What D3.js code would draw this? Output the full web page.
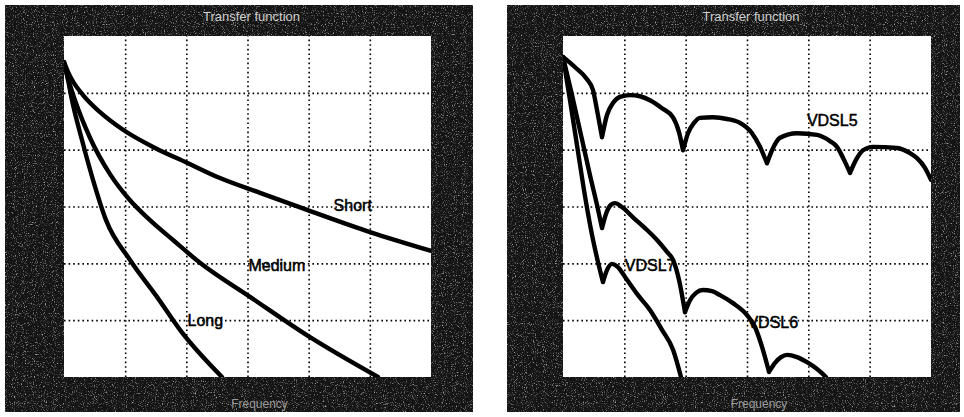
<!DOCTYPE html>
<html>
<head>
<meta charset="utf-8">
<script src="https://cdn.jsdelivr.net/npm/d3@7"></script>
<style>
  body { margin: 0; background: #fff; }
  svg { display: block; font-family: "Liberation Sans", Arial, sans-serif; }
</style>
</head>
<body>
<script>
// values: x in grid divisions, y in dB (10 dB / division)
const xTicks = [0, 1, 2, 3, 4, 5, 6]
const yTicks = [-60, -50, -40, -30, -20, -10, 0]

const shortX = [0, 0.065, 0.131, 0.311, 0.589, 0.965, 1.488, 2.011, 2.55, 3.204, 3.973, 5.003, 6.0]
const shortY = [-4.6, -6.3, -7.7, -10.4, -13.4, -16.5, -19.7, -22.3, -25.0, -27.6, -30.6, -34.5, -37.8]

const mediumX = [0, 0.065, 0.18, 0.425, 0.752, 1.079, 1.406, 1.782, 2.223, 3.041, 4.022, 5.133]
const mediumY = [-4.6, -7.4, -11.3, -17.9, -24.3, -28.9, -32.4, -35.9, -39.9, -45.9, -53.0, -60]

const longX = [0, 0.065, 0.131, 0.294, 0.474, 0.687, 1.079, 1.52, 1.896, 2.583]
const longY = [-4.6, -7.7, -11.3, -18.3, -25.3, -32.4, -39.4, -45.9, -51.7, -60]

const vdsl5X = [0, 0.196, 0.391, 0.489, 0.554, 0.636, 0.717, 0.815, 0.929, 1.092, 1.255, 1.418, 1.614, 1.794, 1.891, 1.957,
  2.038, 2.136, 2.233, 2.446, 2.674, 2.886, 3.082, 3.212, 3.326, 3.408, 3.538, 3.815, 4.142, 4.353, 4.467, 4.582, 4.68,
  4.777, 4.891, 5.055, 5.446, 5.658, 5.772, 5.902, 6.0]
const vdsl5Y = [-3.7, -5.5, -7.6, -9.5, -13.0, -17.8, -13.9, -11.8, -10.7, -10.4, -10.6, -11.3, -12.7, -14.3, -16.9, -20.1,
  -17.1, -15.3, -14.4, -14.3, -14.6, -15.3, -17.1, -19.5, -22.4, -20.1, -17.9, -17.1, -17.4, -18.5, -19.5, -21.8, -24.1,
  -21.8, -20.1, -19.5, -19.7, -20.6, -21.5, -23.2, -25.3]

const vdsl6X = [0, 0.147, 0.293, 0.44, 0.554, 0.636, 0.701, 0.783, 0.848, 0.962, 1.141, 1.337, 1.533, 1.696, 1.794, 1.891,
  1.989, 2.071, 2.169, 2.283, 2.429, 2.56, 2.772, 3.0, 3.131, 3.245, 3.359, 3.457, 3.555, 3.652, 3.815, 3.978, 4.142, 4.288]
const vdsl6Y = [-3.7, -10.4, -17.4, -24.5, -29.7, -33.8, -31.3, -29.7, -29.4, -30.1, -31.9, -33.8, -35.9, -38.0, -39.4, -42.9,
  -48.6, -46.5, -45.2, -44.7, -44.9, -45.6, -47.0, -49.1, -51.2, -54.7, -59.1, -57.5, -56.5, -56.1, -56.5, -57.4, -58.6, -60]

const vdsl7X = [0, 0.114, 0.228, 0.342, 0.473, 0.571, 0.652, 0.717, 0.799, 0.88, 1.043, 1.223, 1.418, 1.614, 1.794, 1.924]
const vdsl7Y = [-3.7, -11.3, -19.2, -27.1, -35.0, -39.8, -43.3, -41.2, -40.1, -40.5, -42.9, -45.6, -48.2, -51.7, -55.2, -60]

const leftNames = ['Short', 'Medium', 'Long']
const rightNames = ['VDSL5', 'VDSL7', 'VDSL6']
const panelTitle = 'Transfer function'
const panelXLabel = 'Frequency'

const m = {
    width: 964,
    height: 417
}

const svg = d3.select('body').append('svg')
    .attr('width', m.width)
    .attr('height', m.height)

// grainy scan look for the dark frames
const defs = svg.append('defs')
const grain = defs.append('filter').attr('id', 'grain')
    .attr('x', 0).attr('y', 0).attr('width', 1).attr('height', 1)
grain.append('feTurbulence')
    .attr('type', 'fractalNoise')
    .attr('baseFrequency', 0.9)
    .attr('numOctaves', 2)
    .attr('seed', 4)
grain.append('feColorMatrix')
    .attr('type', 'matrix')
    .attr('values', '0 0 0 0 0.8  0 0 0 0 0.8  0 0 0 0 0.8  3.2 0 0 0 -1.75')

function zip(xs, ys) {
    return xs.map((x, i) => ({ x: x, y: ys[i] }))
}

// split a series at its notches so each dip is a sharp cusp
function lobes(pts) {
    const out = []
    let cur = [pts[0]]
    for (let i = 1; i < pts.length; i++) {
        cur.push(pts[i])
        if (i < pts.length - 1 && pts[i].y < pts[i - 1].y && pts[i].y < pts[i + 1].y) {
            out.push(cur)
            cur = [pts[i]]
        }
    }
    out.push(cur)
    return out
}

function drawPanel(p) {
    const g = svg.append('g')

    g.append('rect')
        .attr('x', p.frame[0]).attr('y', p.frame[1])
        .attr('width', p.frame[2]).attr('height', p.frame[3])
        .attr('fill', '#141414')
    g.append('rect')
        .attr('x', p.frame[0]).attr('y', p.frame[1])
        .attr('width', p.frame[2]).attr('height', p.frame[3])
        .attr('filter', 'url(#grain)')
        .attr('opacity', 0.7)

    const x = d3.scaleLinear().domain([0, 6]).range([p.left, p.right])
    const y = d3.scaleLinear().domain([-60, 0]).range([377, 36])

    g.append('rect')
        .attr('x', x(0)).attr('y', y(0))
        .attr('width', x(6) - x(0)).attr('height', y(-60) - y(0))
        .attr('fill', '#fff')

    const clipId = 'clip' + p.left
    defs.append('clipPath').attr('id', clipId)
        .append('rect')
        .attr('x', x(0)).attr('y', y(0))
        .attr('width', x(6) - x(0)).attr('height', y(-60) - y(0))

    // dotted grid from the axes
    const gx = g.append('g')
        .attr('transform', `translate(0,${y(-60)})`)
        .call(d3.axisBottom(x).tickValues(xTicks.slice(1, -1)).tickSize(-(y(-60) - y(0))).tickFormat(''))
    const gy = g.append('g')
        .attr('transform', `translate(${x(0)},0)`)
        .call(d3.axisLeft(y).tickValues(yTicks.slice(1, -1)).tickSize(-(x(6) - x(0))).tickFormat(''))
    for (const a of [gx, gy]) {
        a.select('.domain').remove()
        a.selectAll('line')
            .attr('stroke', '#000')
            .attr('stroke-width', 1.6)
            .attr('stroke-dasharray', '1.6,3')
    }

    const line = d3.line()
        .x(d => x(d.x))
        .y(d => y(d.y))
        .curve(d3.curveMonotoneX)

    const curves = g.append('g').attr('clip-path', `url(#${clipId})`)
    p.series.forEach(function(s) {
        curves.append('path')
            .attr('d', lobes(s).map(l => line(l)).join(''))
            .attr('fill', 'none')
            .attr('stroke', '#000')
            .attr('stroke-width', 4.4)
            .attr('stroke-linejoin', 'round')
            .attr('stroke-linecap', 'round')
    })

    g.selectAll('.lbl')
        .data(p.names)
        .enter()
        .append('text')
            .attr('class', 'lbl')
            .attr('x', (d, i) => x(p.spots[i][0]))
            .attr('y', (d, i) => y(p.spots[i][1]))
            .attr('dy', '0.36em')
            .attr('text-anchor', 'middle')
            .attr('font-size', 16)
            .attr('fill', '#000')
            .attr('stroke', '#000')
            .attr('stroke-width', 0.5)
            .text(d => d)

    g.append('text')
        .attr('x', (x(0) + x(6)) / 2 + 4)
        .attr('y', 21)
        .attr('text-anchor', 'middle')
        .attr('font-size', 13)
        .attr('fill', '#cfcfcf')
        .text(panelTitle)

    g.append('text')
        .attr('x', (x(0) + x(6)) / 2 + 12)
        .attr('y', 408)
        .attr('text-anchor', 'middle')
        .attr('font-size', 12)
        .attr('fill', '#9a9a9a')
        .text(panelXLabel)
}

drawPanel({
    frame: [5, 5, 468, 407],
    left: 64,
    right: 431,
    series: [zip(shortX, shortY), zip(mediumX, mediumY), zip(longX, longY)],
    names: leftNames,
    spots: [[4.72, -29.7], [3.48, -40.3], [2.31, -50.1]]
})

drawPanel({
    frame: [507, 5, 453, 407],
    left: 563,
    right: 931,
    series: [zip(vdsl5X, vdsl5Y), zip(vdsl6X, vdsl6Y), zip(vdsl7X, vdsl7Y)],
    names: rightNames,
    spots: [[4.39, -14.8], [1.42, -40.3], [3.42, -50.3]]
})
</script>
</body>
</html>
